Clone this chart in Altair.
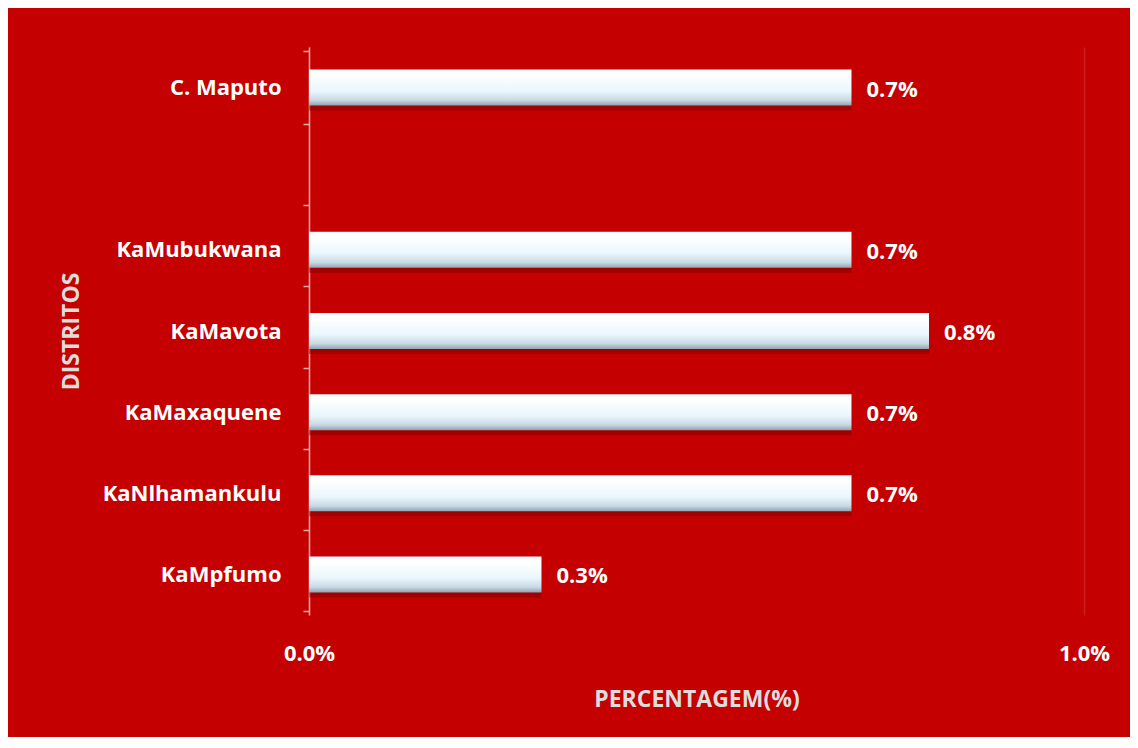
import altair as alt
import pandas as pd

categories = ["C. Maputo", " ", "KaMubukwana", "KaMavota", "KaMaxaquene", "KaNlhamankulu", "KaMpfumo"]
bar_categories = ["C. Maputo", "KaMubukwana", "KaMavota", "KaMaxaquene", "KaNlhamankulu", "KaMpfumo"]
values = [0.007, 0.007, 0.008, 0.007, 0.007, 0.003]
x_ticks = [0.0, 0.01]

df = pd.DataFrame({"distrito": bar_categories, "pct": values})

RED = "#C40000"
FONT = "Open Sans"

y_enc = alt.Y(
    "distrito:N",
    sort=categories,
    scale=alt.Scale(domain=categories),
    axis=alt.Axis(
        title="DISTRITOS",
        tickBand="extent",
        domainColor="#F0A8A8",
        tickColor="#F0A8A8",
        domainWidth=1.5,
        tickWidth=1.5,
        tickSize=6,
        labelPadding=22,
        labelColor="white",
        labelFont=FONT,
        labelFontSize=22,
        labelFontWeight="bold",
        titleColor="#DDDDDD",
        titleFont=FONT,
        titleFontSize=23,
        titleFontWeight="bold",
        titlePadding=26,
        grid=False,
    ),
)

x_enc = alt.X(
    "pct:Q",
    scale=alt.Scale(domain=[0, 0.01]),
    axis=alt.Axis(
        title="PERCENTAGEM(%)",
        values=x_ticks,
        format=".1%",
        domain=False,
        ticks=False,
        grid=True,
        gridColor="#CF1E1E",
        gridWidth=1.5,
        labelFlush=False,
        labelPadding=28,
        labelColor="white",
        labelFont=FONT,
        labelFontSize=22,
        labelFontWeight="bold",
        titleColor="#DDDDDD",
        titleFont=FONT,
        titleFontSize=23,
        titleFontWeight="bold",
        titlePadding=24,
    ),
)

base = alt.Chart(df)

shadow = base.mark_bar(size=36, color="#7A0000", opacity=0.45, yOffset=5).encode(
    x=x_enc, y=y_enc
)

gradient = alt.Gradient(
    gradient="linear",
    x1=0, y1=0, x2=0, y2=1,
    stops=[
        alt.GradientStop(offset=0, color="#F4FAFE"),
        alt.GradientStop(offset=0.15, color="#FFFFFF"),
        alt.GradientStop(offset=0.6, color="#EAF6FD"),
        alt.GradientStop(offset=0.85, color="#C9D9E4"),
        alt.GradientStop(offset=1, color="#8FA3B2"),
    ],
)

bars = base.mark_bar(size=36, color=gradient).encode(x=x_enc, y=y_enc)

labels = base.mark_text(
    align="left", dx=15, dy=2, color="white", font=FONT, fontSize=22, fontWeight="bold"
).encode(x=x_enc, y=y_enc, text=alt.Text("pct:Q", format=".1%"))

chart = (
    alt.layer(shadow, bars, labels)
    .properties(
        width=775,
        height=568,
        background=RED,
        autosize=alt.AutoSizeParams(type="none"),
        padding={"left": 301, "top": 39, "right": 46, "bottom": 122},
    )
    .configure_view(stroke=None)
)

chart.save("out.html", embed_options={"renderer": "svg", "actions": False})
